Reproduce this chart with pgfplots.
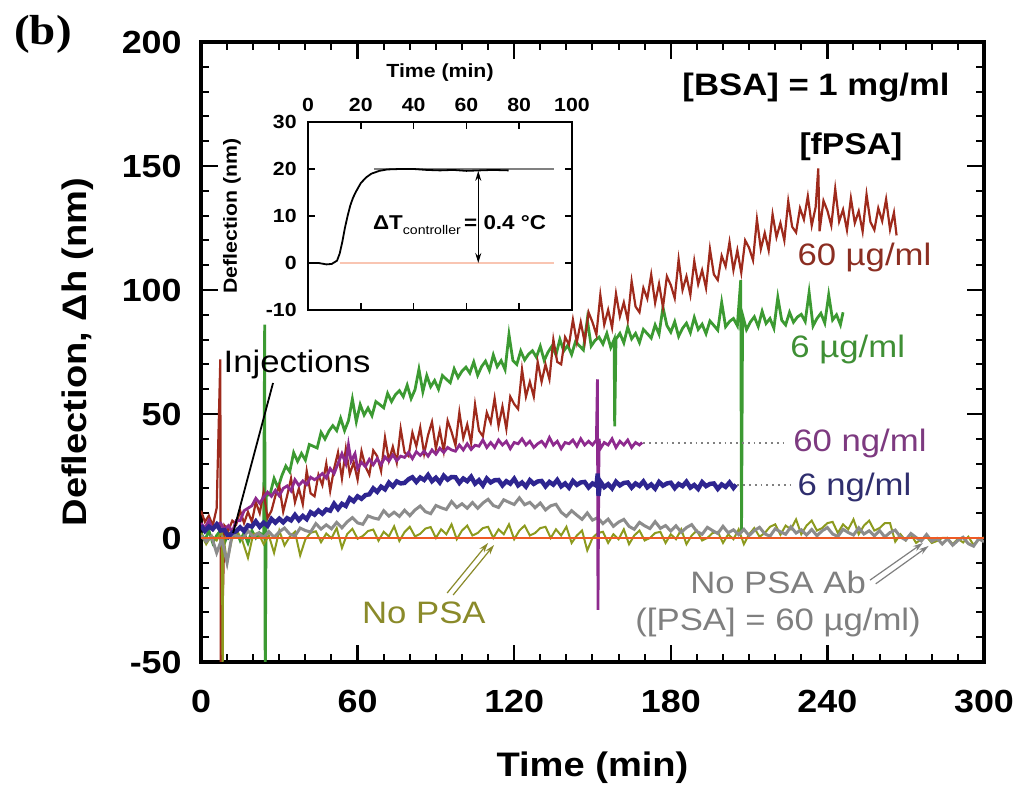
\documentclass[border=0pt]{standalone}
\usepackage{fontspec}
\setmainfont{Liberation Sans}[FakeStretch=1.12]
\newfontfamily\serifbf{Liberation Serif}[FakeStretch=1.12]
\usepackage{pgfplots}
\pgfplotsset{compat=1.18}
\usetikzlibrary{arrows.meta}

% trace colours
\definecolor{redc}{HTML}{9E2A1C}
\definecolor{greenc}{HTML}{3C9A32}
\definecolor{purplec}{HTML}{8E2A8E}
\definecolor{bluec}{HTML}{2E2590}
\definecolor{grayc}{HTML}{8C8C8C}
\definecolor{olivec}{HTML}{8C9A1E}
\definecolor{orangec}{HTML}{EE5A24}
% label colours
\definecolor{labred}{HTML}{8B2E22}
\definecolor{labgreen}{HTML}{3F8F35}
\definecolor{labpurple}{HTML}{7D3A80}
\definecolor{labblue}{HTML}{2F2E6E}
\definecolor{labolive}{HTML}{8A8A2A}
\definecolor{labgray}{HTML}{7F7F7F}

\newcommand{\annfont}{\fontsize{15.5}{18}\selectfont}

\begin{document}
\begin{tikzpicture}
\useasboundingbox (0,0) rectangle (512.5pt,395.5pt);

\node[font=\serifbf\fontsize{21}{24}\selectfont\bfseries] at (21.5pt,378.5pt) {(b)};

% ---------------- main panel ----------------
\begin{axis}[
  at={(100.5pt,64.5pt)}, anchor=south west,
  scale only axis, width=391.5pt, height=310pt,
  xmin=0, xmax=300, ymin=-50, ymax=200,
  xtick={0,60,...,300}, ytick={-50,0,...,200},
  minor x tick num=5, minor y tick num=4,
  tick align=inside,
  major tick length=8.5pt, minor tick length=4pt,
  major tick style={line width=1.2pt, black},
  minor tick style={line width=1pt, black},
  axis line style={line width=1.6pt},
  /pgf/number format/assume math mode=true,
  tick label style={font=\fontsize{16}{18}\selectfont\bfseries, inner sep=0pt},
  xticklabel style={anchor=north, yshift=-14pt},
  yticklabel style={anchor=east, xshift=-9.5pt},
  xlabel={Time (min)}, ylabel={Deflection, Δh (nm)},
  label style={font=\fontsize{17}{20}\selectfont\bfseries},
  xlabel style={at={(axis description cs:0.5,-0.171)}, anchor=center},
  ylabel style={at={(axis description cs:-0.158,0.5)}, anchor=center},
]

% 6 ug/ml
\addplot[greenc, line width=1.4pt] coordinates {
(0,2)(1.5,-1)(3,3)(4.5,-2)(6,1)(7.5,3)(9,-2)(10.5,2)(12,0)(13.5,3)(15,-1)(16.5,2)(18,-2)(19.5,3)(21,0)(22.5,2)(24,1)(24.4,86)(24.6,-60)
(25,17)(26.5,17.8)(28,24)(29.5,20.3)(31,25.2)(32.5,29)(34,26.7)(35.5,34.4)(37,30.9)(38.5,34.1)(40,31.4)(41.5,37.7)(43,37)(44.5,36.3)(46,42.6)(47.5,39.9)(49,43.1)(50.5,45.3)(52,43.3)(53.5,48.3)(55,43.3)(56.5,47.3)(58,56)(59.5,46.9)(61,53.8)(62.5,49.6)(64,52.4)(65.5,49.3)(67,55)(68.5,53.8)(70,52.5)(71.5,58.3)(73,55)(74.5,57.8)(76,59.4)(77.5,57)(79,61.6)(80.5,56.2)(82,59.8)(83.5,68)(85,59)(86.5,65.5)(88,61)(89.5,63.5)(91,60)(92.5,65.5)(94,64)(95.5,62.6)(97,68.2)(98.5,64.7)(100,67.3)(101.5,68.9)(103,66.5)(104.5,71)(106,65.6)(107.5,69.1)(109,71.3)(110.5,67.6)(112,73.8)(113.5,69.1)(115,71.5)(116.5,67.9)(118,82)(119.5,71.6)(121,70)(122.5,75.4)(124,71.8)(125.5,74.1)(127,75.5)(128.5,72.9)(130,77.3)(131.5,71.6)(133,75)(134.5,77.4)(136,73.8)(137.5,80.1)(139,75.4)(140.5,77.7)(142,74)(143.5,79.2)(145,77.5)(146.5,75.8)(148,88)(149.5,77.4)(151,79.7)(152.5,81)(154,78.2)(155.5,82.5)(157,76.8)(158.3,80)(158.5,45)(159,80.2)(160.5,82.5)(162,78.7)(163.5,85)(165,80.3)(166.5,82.5)(168,78.8)(169.5,84.1)(171,82.4)(172.5,80.6)(174,85.9)(175.5,82.2)(177,93)(178.5,85.7)(180,83)(181.5,87.2)(183,81.3)(184.5,84.5)(186,86.6)(187.5,82.8)(189,88.9)(190.5,84.1)(192,86.2)(193.5,82.4)(195,87.5)(196.5,85.7)(198,83.8)(199.5,95)(201,85.2)(202.5,87.3)(204,88.5)(205.5,85.6)(206.8,104)(207.1,2)(207.5,89.9)(209,84)(210.5,87.1)(212,89.2)(213.5,85.3)(215,91.4)(216.5,86.5)(218,88.5)(219.5,84.6)(221,97)(222.5,87.8)(224,85.9)(225.5,91)(227,87)(228.5,89.1)(230,90.2)(231.5,87.3)(233,99)(234.5,85.5)(236,88.5)(237.5,90.6)(239,86.7)(240.5,98)(242,87.9)(243.5,90)(245,86)(246,91)
};

% 60 ug/ml
\addplot[redc, line width=1.1pt] coordinates {
(0,11)(1.5,6.5)(3,9)(4.5,5)(6,12)(7.4,72)(7.6,-60)(9,5)(10.5,3)(12,7)(13.5,5.5)(15,11)(16.5,6)(18,10.5)(19.5,6.5)(21,14.5)(22.5,10)(24,18.5)(25.5,8)(27,11)(28.5,17)(30,21)(31.5,10.6)(33,17)(34.5,24)(36,14.4)(37.5,20)(39,13.6)(40.5,27)(42,18)(43.5,16.8)(45,25.5)(46.5,21.3)(48,30)(49.5,19)(51,28)(52.5,34.5)(54,24)(55.5,36)(57,25.8)(58.5,30.5)(60,23.5)(61.5,35)(63,28.8)(64.5,25.5)(66,35.3)(67.5,33)(69,27)(70.5,40.5)(72,31.2)(73.5,36.8)(75,30.4)(76.5,44)(78,34.5)(79.5,33)(81,42.5)(82.5,37)(84,44.5)(85.5,34)(87,41.5)(88.5,46.8)(90,36)(91.5,43.5)(93,35)(94.5,47.3)(96,42.8)(97.5,37.3)(99,50.7)(100.5,40.2)(102,45.8)(103.5,38.3)(105,53.8)(106.5,43.3)(108,41)(109.5,50.6)(111,46.4)(112.5,56.3)(114,45.2)(115.5,53)(117,44)(118.5,57)(120,54)(121.5,52)(123,68)(124.5,57)(126,63)(127.5,57)(129,71)(130.5,63)(132,70)(133.5,64)(135,80)(136.5,71)(138,70)(139.5,81)(141,78)(142.5,88)(144,79)(145.5,87)(147,79)(148.5,91)(150,87)(151.5,82)(153,98)(154.5,86)(156,92)(157.5,84.8)(159,98.5)(160.5,89.3)(162,95)(163.5,87.8)(165,103.5)(166.5,93.3)(168,91)(169.5,100.8)(171,96.5)(172.5,106.2)(174,94.8)(175.5,102.5)(177,93)(178.5,105.5)(180,102)(181.5,96.7)(183,112.3)(184.5,100)(186,105.5)(187.5,98)(189,111.7)(190.5,102.3)(192,108)(193.5,100.8)(195,116.5)(196.5,106.3)(198,104)(199.5,113.8)(201,109.5)(202.5,119.3)(204,108)(205.5,116)(207,107)(208.5,120)(210,117)(211.5,112)(213,128.5)(214.5,116.5)(216,123)(217.5,116)(219,130.5)(220.5,121.3)(222,127)(223.5,120)(225,135.8)(226.5,125.5)(228,123.2)(229.5,133)(231,128.4)(232.5,137.8)(234,126)(235.5,133.4)(236.5,149)(237,123.7)(238.5,136)(240,132)(241.5,126)(243,140.8)(244.5,127.6)(246,132.4)(247.5,124.2)(249,137)(250.5,127)(252,131.8)(253.5,123.6)(255,138.5)(256.5,127.4)(258,124.2)(259.5,133)(261,127.8)(262.5,136.6)(264,124.4)(265.5,131.2)(266.5,122)
};

% No PSA
\addplot[olivec, line width=1pt] coordinates {
(0,2)(2,-2.5)(4,1)(6,-1)(8,3)(8.3,-60)(8.5,1)(10,-10)(12,0.5)(14,2.5)(16,-1.5)(18,-8)(20,1.5)(22,2)(24,-2.5)(26,1)(28,-6)(30,3)(32,-3)(34,0.5)(36,2.5)(38,-7)(40,-0.5)(42,2.1)(44,2.7)(46,-1.7)(48,1.8)(50,-0.1)(52,4)(54,-4)(56,1.6)(58,3.7)(60,-0.3)(62,0.8)(64,2.8)(66,3.4)(68,-1.1)(70,2.5)(72,0.6)(74,4.7)(76,-1.2)(78,2.4)(80,4.5)(82,0.6)(84,1.7)(86,3.8)(88,4.4)(90,0)(92,3.5)(94,1.5)(96,5.5)(98,-0.5)(100,3)(102,5)(104,1)(106,2)(108,4)(110,4.5)(112,0)(114,3.5)(116,1.5)(118,5.5)(120,-0.5)(122,3)(124,5)(126,1)(128,2)(130,4)(132,4.5)(134,0)(136,3.5)(138,1)(140,4.5)(142,-2)(144,1)(146,3)(148,-5)(150,0)(152,2)(154,2.5)(156,-2)(158,1.5)(160,-0.5)(162,3.5)(164,-2.5)(166,1)(168,3)(170,-1)(172,0)(174,2)(176,2.5)(178,-2)(180,1.5)(182,-0.5)(184,3.5)(186,-2.5)(188,1)(190,3)(192,-1)(194,0)(196,2)(198,2.5)(200,-2)(202,1.5)(204,-0.5)(206,3.5)(208,-2.5)(210,1.5)(212,4)(214,0.5)(216,2)(218,4.5)(220,5.5)(222,1.3)(224,5)(226,3.5)(228,7.5)(230,1.5)(232,5)(234,7)(236,3)(238,4)(240,6)(242,6.5)(244,2)(246,5.5)(248,3.5)(250,7.5)(252,1.5)(254,5)(256,7)(258,3)(260,4)(262,6)(264,6)(266,-1.5)(268,1.5)(270,-1)(272,1.5)(274,-2)(276,-0.5)(278,0.5)(280,-2)(282,-1.2)(284,0)(286,0)(288,-2.5)(290,-0.3)(292,-1.8)(294,0.5)(296,-2.8)(298,-0.6)(300,0.2)
};

% No PSA Ab
\addplot[grayc, line width=1.5pt] coordinates {
(0,1)(2,-1.4)(4,0.7)(6,-6)(8,-0.4)(10,-10)(12,1.8)(14,0.7)(16,-0.2)(18,2.9)(20,0.5)(22,2)(24,0.2)(26,2.6)(28,0.3)(30,2.5)(32,4)(34,1.6)(36,0.8)(38,4)(40,3)(42,2.4)(44,5.8)(46,3.6)(48,5.3)(50,3.7)(52,6.3)(54,4.1)(56,6.5)(58,8.2)(60,6.1)(62,5.5)(64,8.9)(66,8.1)(68,7.6)(70,11)(72,8.8)(74,10.4)(76,8.7)(78,11.2)(80,9)(82,11.3)(84,12.9)(86,10.6)(88,9.8)(90,13.1)(92,12.2)(94,11.5)(96,14.7)(98,12.3)(100,13.8)(102,12)(104,14.3)(106,12)(108,14.1)(110,15.6)(112,13.1)(114,12.3)(116,15.4)(118,14.4)(120,13.5)(122,16.2)(124,13.4)(126,14.4)(128,12.2)(130,14.1)(132,11.3)(134,13)(136,13.6)(138,10.4)(140,8.7)(142,11)(144,9.2)(146,7.5)(148,10.1)(150,7.2)(152,8.2)(154,5.8)(156,7.6)(158,4.7)(160,6.4)(162,7.5)(164,4.7)(166,3.5)(168,6.3)(170,4.9)(172,3.8)(174,6.6)(176,3.9)(178,5)(180,2.8)(182,4.9)(184,2.3)(186,4.2)(188,5.4)(190,2.6)(192,1.5)(194,4.3)(196,3)(198,1.8)(200,4.7)(202,2.1)(204,3.3)(206,1.3)(208,3.5)(210,1)(212,3)(214,4.3)(216,1.7)(218,0.7)(220,3.7)(222,2.5)(224,1.5)(226,4.5)(228,2)(230,3.3)(232,1.2)(234,3.4)(236,0.9)(238,2.9)(240,4.2)(242,1.6)(244,0.6)(246,3.5)(248,2.2)(250,1.2)(252,4.1)(254,1.6)(256,2.9)(258,0.9)(260,3)(262,0.4)(264,2.2)(266,3.2)(268,0.4)(270,-0.8)(272,1.8)(274,0.2)(276,-1.2)(278,1.4)(280,-1.3)(282,-0.2)(284,-2.4)(286,-0.3)(288,-2.9)(290,-1)(292,0.3)(294,-2.3)(296,-3.3)(298,-0.3)(300,-1.5)
};

% 60 ng/ml
\addplot[purplec, line width=1.4pt] coordinates {
(0,6)(1.5,4)(3,7)(4.5,3.5)(6,5.5)(7.5,6)(9,3.5)(10.5,5)(12,2.5)(13.5,7)(15,7)(16.5,11)(18,12)(19.5,13)(21,16)(22.5,14)(24,16.5)(25.5,18.5)(27,16.8)(28.5,19.2)(30,17)(31.5,20)(33,21)(34.5,19)(36,23.5)(37.5,21.2)(39,23)(40.5,21.5)(42,24.5)(43.5,23.5)(45,24.6)(46.5,26)(48,24.2)(49.5,28)(51,26)(52.5,30)(54,34)(55.5,30)(56.5,37.5)(57.5,31)(59,34)(60,28)(61.5,30.5)(63,28.8)(64.5,31.7)(66,29.5)(67.5,32)(69,29.5)(70.5,32.7)(72,31)(73.5,33.5)(75,31.2)(76.5,33)(78,32.5)(79.5,34.5)(81,32)(82.5,34.8)(84,33.3)(85.5,35)(87,33)(88.5,35.5)(90,33.8)(91.5,36.2)(93,34.5)(94.5,36.5)(96,35.5)(97.5,35)(99,37.5)(100.5,35.5)(102,38)(103.5,35.7)(105,37.4)(106.5,37)(108,39.5)(109.5,36.5)(111,38.5)(112.5,36.5)(114,39.5)(115.5,37.5)(117,39)(118.5,36)(120,38.5)(121.5,38)(123,40)(124.5,37.5)(126,39)(127.5,36.5)(129,38)(130.5,39)(132,37)(133.5,40.5)(135,37.5)(136.5,39)(138,36)(139.5,38.5)(141,38)(142.5,39.5)(144,37)(145.5,40)(147,37.5)(148.5,39)(150,37.5)(151.5,39.5)(151.9,64)(152.1,-29)(152.5,40)(153,36)(154.5,38.5)(156,37.5)(157.5,40)(159,36.5)(160.5,39)(162,37.5)(163.5,39.5)(165,36.5)(166.5,38.5)(168,37.5)(169,38.5)
};

% 6 ng/ml
\addplot[bluec, line width=2.2pt] coordinates {
(0,5)(1.5,2.8)(3,4.6)(4.5,3.6)(6,5.5)(7.5,3)(9,3.2)(10.5,0.5)(12,2.2)(13.5,2.7)(15,4.3)(16.5,2.8)(18,5.1)(19.5,4.6)(21,6.7)(22.5,4.5)(24,6.2)(25.5,4.9)(27,7.7)(28.5,6.2)(30,7.8)(31.5,6.3)(33,8)(34.5,7.1)(36,9.3)(37.5,7.2)(39,8.9)(40.5,7.6)(42,10.4)(43.5,9.4)(45,11.1)(46.5,9.8)(48,11.5)(49.5,11)(51,13.8)(52.5,11.7)(54,13.8)(55.5,12.9)(57,16)(58.5,14.8)(60,16.8)(61.5,15.8)(63,17.3)(64.5,17.6)(66,20)(67.5,18.6)(69,20.7)(70.5,19.6)(72,22.3)(73.5,20.8)(75,22.8)(76.5,22)(78,22.2)(79.5,23.7)(81,24.5)(82.5,22.6)(84,24.4)(85.5,23.4)(87,25.4)(88.5,22.9)(90,24.3)(91.5,22.4)(93,25.1)(94.5,23.5)(96,24.6)(97.5,24.5)(99,22.2)(100.5,24)(102,22.9)(103.5,24.7)(105,21.9)(106.5,23.3)(108,21.2)(109.5,24)(111,22.4)(112.5,23.3)(114,23.4)(115.5,21.2)(117,22.9)(118.5,21.9)(120,23.9)(121.5,21.2)(123,22.4)(124.5,20.7)(126,23.3)(127.5,21.8)(129,22.8)(130.5,23)(132,20.8)(133.5,22.6)(135,21.5)(136.5,23.4)(138,20.8)(139.5,22)(141,20.3)(142.5,23)(144,21.4)(145.5,22.4)(147,22.6)(148.5,20.4)(150,22)(151.5,21.1)(152,26)(152.3,17)(153,22.8)(154.5,20.5)(156,21.7)(157.5,20)(159,22.7)(160.5,21.2)(162,22.2)(163.5,22.4)(165,20.3)(166.5,22)(168,21)(169.5,22.8)(171,20.4)(172.5,21.6)(174,19.9)(175.5,22.6)(177,21.1)(178.5,22)(180,22.3)(181.5,20.1)(183,21.8)(184.5,20.9)(186,22.7)(187.5,20.3)(189,21.4)(190.5,19.8)(192,22.5)(193.5,20.9)(195,21.8)(196.5,22)(198,19.8)(199.5,21.6)(201,20.6)(202.5,22.4)(204,20.2)(205,21.5)
};

% zero line
\addplot[orangec, line width=1.3pt] coordinates {(0,0)(300,0)};

% annotations
\node[font=\fontsize{15.5}{18}\selectfont\bfseries, anchor=east, inner sep=0pt] at (axis cs:287,181.5) {[BSA] = 1 mg/ml};
\node[font=\fontsize{15}{18}\selectfont\bfseries, inner sep=0pt] at (axis cs:249,157.7) {[fPSA]};
\node[font=\annfont, text=labred, anchor=west, inner sep=0pt] at (axis cs:228.4,113.3) {60 µg/ml};
\node[font=\annfont, text=labgreen, anchor=west, inner sep=0pt] at (axis cs:225.7,76) {6 µg/ml};
\node[font=\annfont, text=labpurple, anchor=west, inner sep=0pt] at (axis cs:226.8,38.3) {60 ng/ml};
\node[font=\annfont, text=labblue, anchor=west, inner sep=0pt] at (axis cs:228.4,20.2) {6 ng/ml};
\draw[dotted, line width=0.9pt, gray] (axis cs:169.5,38.3) -- (axis cs:225,38.3);
\draw[dotted, line width=0.9pt, gray] (axis cs:205.5,21.4) -- (axis cs:226.5,21.4);

\node[font=\annfont, inner sep=0pt] at (axis cs:36.8,69.8) {Injections};
\draw[black, line width=0.9pt] (axis cs:27.6,62.5) -- (axis cs:12.3,2);

\node[font=\annfont, text=labolive, inner sep=0pt] at (axis cs:85.4,-30.2) {No PSA};
\draw[-{Stealth[length=5pt,width=3pt]}, labolive, line width=0.6pt] (axis cs:94.3,-22.2) -- (axis cs:110,-2);
\draw[-{Stealth[length=5pt,width=3pt]}, labolive, line width=0.6pt] (axis cs:96.6,-23) -- (axis cs:112.3,-2.8);

\node[font=\annfont, text=labgray, inner sep=0pt] at (axis cs:221.1,-18.1) {No PSA Ab};
\node[font=\annfont, text=labgray, inner sep=0pt] at (axis cs:221.1,-33.9) {([PSA] = 60 µg/ml)};
\draw[-{Stealth[length=5pt,width=3pt]}, labgray, line width=0.6pt] (axis cs:256.3,-17) -- (axis cs:276.6,-2);
\draw[-{Stealth[length=5pt,width=3pt]}, labgray, line width=0.6pt] (axis cs:258.5,-18.5) -- (axis cs:278.8,-3.2);
\end{axis}

% ---------------- inset ----------------
\begin{axis}[
  at={(154pt,240.5pt)}, anchor=south west,
  scale only axis, width=132pt, height=94pt,
  xmin=0, xmax=100, ymin=-10, ymax=30,
  xtick={0,20,...,100}, ytick={-10,0,...,30},
  xticklabel pos=right,
  tick align=inside,
  major tick length=3.5pt,
  major tick style={line width=0.8pt, black},
  axis line style={line width=1.2pt},
  axis background/.style={fill=white},
  /pgf/number format/assume math mode=true,
  tick label style={font=\fontsize{9.5}{11}\selectfont\bfseries, inner sep=0pt},
  xticklabel style={anchor=south, yshift=5pt},
  yticklabel style={anchor=east, xshift=-5.5pt},
  xlabel={Time (min)}, ylabel={Deflection (nm)},
  label style={font=\fontsize{9.5}{11}\selectfont\bfseries},
  xlabel style={at={(axis description cs:0.5,1)}, anchor=center, yshift=24.5pt},
  ylabel style={at={(axis description cs:-0.288,0.5)}, anchor=center},
]
\addplot[orangec!35, line width=1.2pt] coordinates {(12,0)(93,0)};
\addplot[gray, line width=0.8pt] coordinates {(25,20)(93,20)};
\addplot[black, line width=0.9pt] coordinates {
(0,0)(4,0)(7,-0.3)(9,-0.2)(11,0.5)(12,2)(13,4.5)(14,7.5)(15,10)(16,12.2)(17,13.8)(18,15)(19,16)(20,17)(22,18.2)(24,19)(27,19.6)(30,19.9)(35,20)(40,20)(45,19.8)(50,19.7)(55,19.8)(60,19.6)(65,19.7)(70,19.8)(76,19.7)
};
\draw[{Stealth[length=5pt,width=3pt]}-{Stealth[length=5pt,width=3pt]}, line width=0.6pt] (axis cs:64.5,19.6) -- (axis cs:64.5,0);
\node[anchor=west, inner sep=0pt] at (axis cs:24.5,8)
  {\fontsize{10}{12}\selectfont\bfseries ΔT\raisebox{-2.5pt}{\fontsize{6.3}{7}\selectfont\mdseries controller}\,= 0.4 °C};
\end{axis}
\end{tikzpicture}
\end{document}
